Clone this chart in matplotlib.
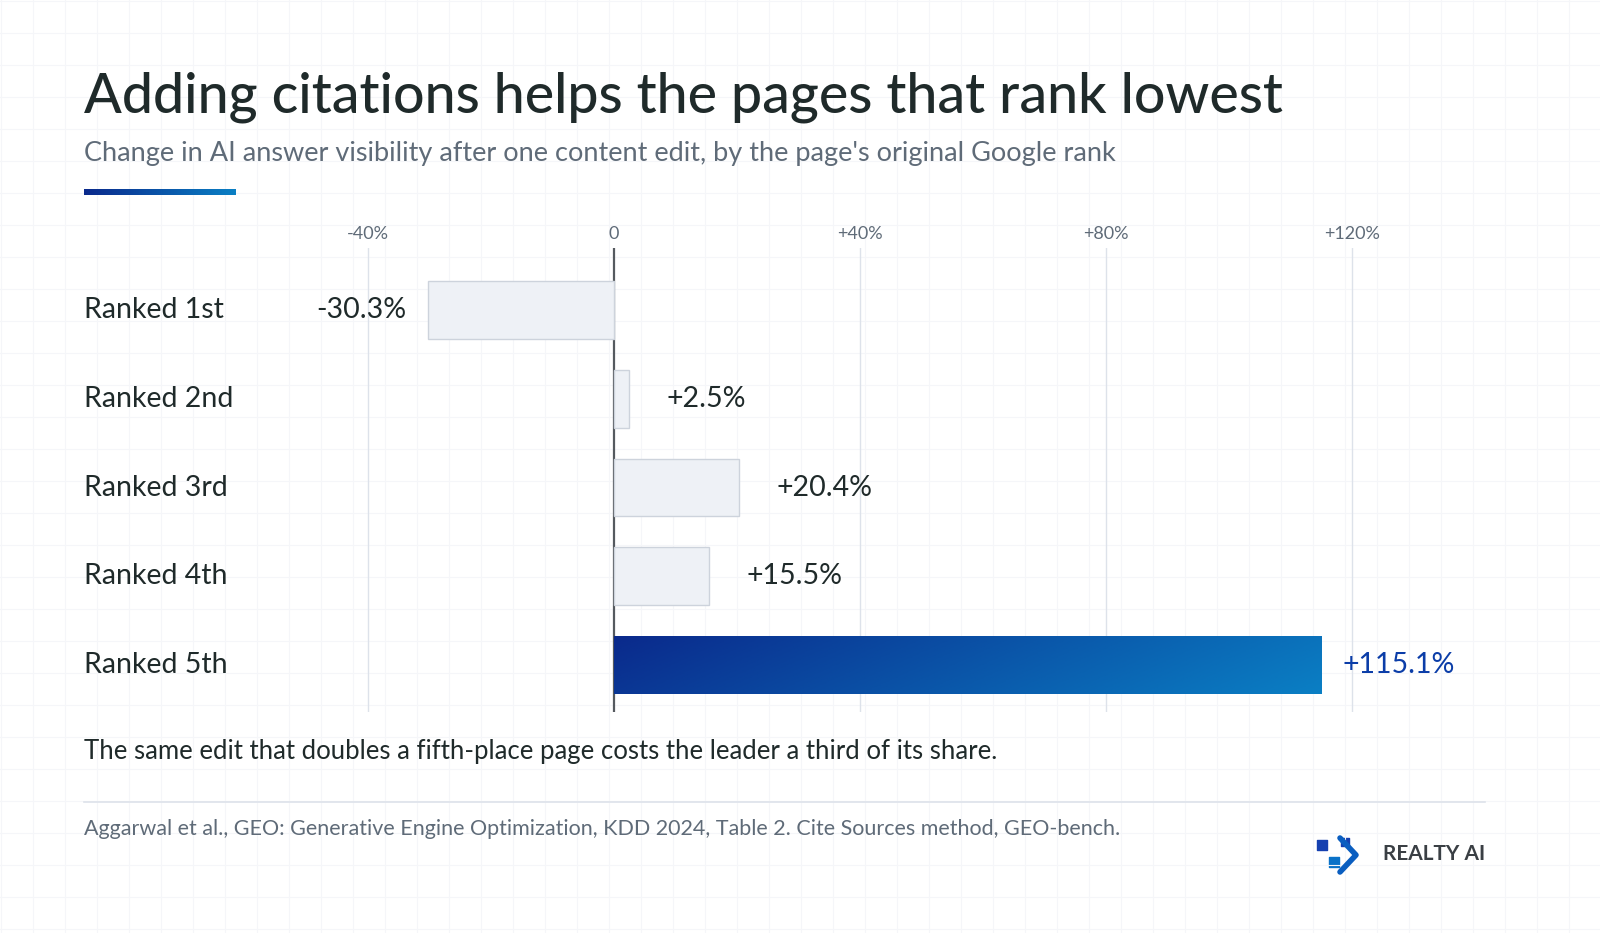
import numpy as np
import matplotlib.pyplot as plt
from matplotlib.colors import LinearSegmentedColormap

plt.rcParams['font.family'] = ['Lato', 'DejaVu Sans']

ranks = ['Ranked 1st', 'Ranked 2nd', 'Ranked 3rd', 'Ranked 4th', 'Ranked 5th']
changes = [-30.3, 2.5, 20.4, 15.5, 115.1]
ticks = [-40, 0, 40, 80, 120]
tick_labels = ['-40%', '0', '+40%', '+80%', '+120%']

W, H = 1600, 933
fig = plt.figure(figsize=(16, 9.33), dpi=100)
fig.patch.set_facecolor('white')

# faint background grid
bg = fig.add_axes([0, 0, 1, 1], zorder=-5)
bg.set_xlim(0, W); bg.set_ylim(H, 0); bg.axis('off')
for gx in np.arange(1, W, 32):
    bg.axvline(gx, color='#f5f6f9', lw=0.8)
for gy in np.arange(1, H, 32):
    bg.axhline(gy, color='#f5f6f9', lw=0.8)

fig.text(84/W, 1-97/H, 'Adding citations helps the pages that rank lowest', fontsize=40,
         color='#1f2a2a', va='center', fontweight='medium')
fig.text(84/W, 1-154/H, "Change in AI answer visibility after one content edit, by the page's original Google rank",
         fontsize=19.5, color='#5f6b78', va='center')
grad = LinearSegmentedColormap.from_list('g', ['#0a2a8c', '#0a7fc4'])
ul = fig.add_axes([84/W, 1-195/H, 152/W, 6/H])
ul.imshow(np.linspace(0, 1, 100).reshape(1, -1), cmap=grad, aspect='auto')
ul.axis('off')

# main chart
px0, px1, zero, scale = 300, 1500, 614, 6.15
ax = fig.add_axes([px0/W, 1-712/H, (px1-px0)/W, (712-248)/H])
ax.axis('off')
for t, lab in zip(ticks, tick_labels):
    ax.axvline(t, color='#dde2ea' if t else '#555a5f', lw=1 if t else 1.6, zorder=0)
    ax.text(t, -0.86, lab, ha='center', va='center', fontsize=13, color='#5f6b78')

for i, (r, v) in enumerate(zip(ranks, changes)):
    ax.text((84-zero)/scale, i, r, ha='left', va='center', fontsize=20.5, color='#1f2a2a', clip_on=False)
    if i < 4:
        ax.barh(i, v, height=0.65, color='#eef1f6', edgecolor='#cdd3dc', lw=1, zorder=2)
        lab = f'{v:+.1f}%'
        if v < 0:
            ax.text(v - 3.4, i, lab, ha='right', va='center', fontsize=20.5, color='#1f2a2a')
        else:
            ax.text(v + 6, i, lab, ha='left', va='center', fontsize=20.5, color='#1f2a2a')
    else:
        yy, xx = np.mgrid[0:1:50j, 0:1:200j]
        ax.imshow(xx * 0.85 + yy * 0.15, cmap=grad, aspect='auto',
                  extent=[0, v, i + 0.325, i - 0.325], zorder=2)
        ax.text(v + 3.3, i, f'{v:+.1f}%', ha='left', va='center', fontsize=20.5, color='#0b3da8')
ax.set_xlim((px0-zero)/scale, (px1-zero)/scale)
ax.set_ylim(4.53, -0.70)

fig.text(84/W, 1-751/H, 'The same edit that doubles a fifth-place page costs the leader a third of its share.',
         fontsize=18.5, color='#1f2a2a', va='center')
bg.plot([84, 1485], [802, 802], color='#dde2ea', lw=1.2)
fig.text(84/W, 1-829/H, 'Aggarwal et al., GEO: Generative Engine Optimization, KDD 2024, Table 2. Cite Sources method, GEO-bench.',
         fontsize=15.5, color='#5f6b78', va='center')
# logo
bg.scatter([1322, 1345, 1334], [845, 842, 862], s=[60, 40, 50], color=['#1540b0', '#1540b0', '#0a72c8'], marker='s')
bg.plot([1340, 1356, 1340], [838, 855, 872], color='#0a5ec0', lw=4, solid_capstyle='round')
bg.text(1485, 854, 'REALTY AI', ha='right', va='center', fontsize=15, color='#3a3f44', fontweight='bold')

fig.savefig('out.png', dpi=100)
